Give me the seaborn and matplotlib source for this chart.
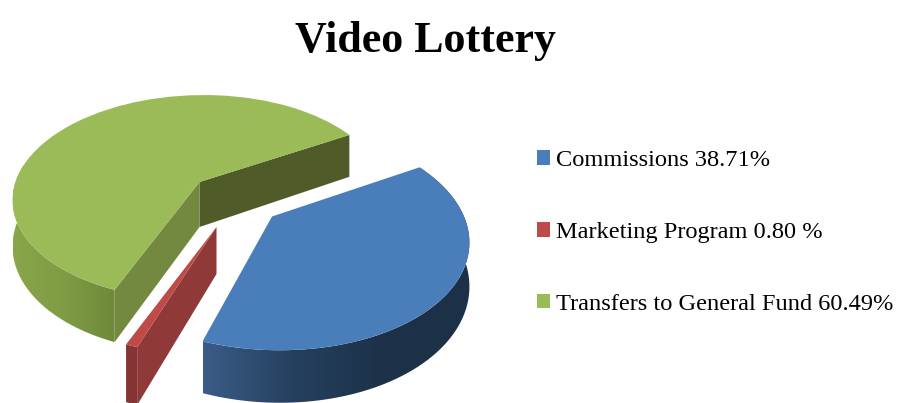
import numpy as np
import matplotlib
matplotlib.use('Agg')
import matplotlib.pyplot as plt
from matplotlib.colors import LinearSegmentedColormap
from matplotlib.patches import Polygon
from matplotlib.transforms import Transform
import seaborn as sns

title = 'Video Lottery'
categories = ['Commissions', 'Marketing Program', 'Transfers to General Fund']
shares = [38.71, 0.80, 60.49]
legend_labels = ['Commissions 38.71%', 'Marketing Program 0.80 %', 'Transfers to General Fund 60.49%']
top_colors = ['#4a7ebb', '#be4b48', '#9bbb59']


class TiltedPie(Transform):
    # unit pie -> pixel position, tilted with a little perspective
    input_dims = 2
    output_dims = 2

    def __init__(self, cx, cy, a, b, k, skew=0.0, drop=0.0):
        super().__init__()
        self.cx, self.cy, self.a, self.b = cx, cy, a, b
        self.k, self.skew, self.drop = k, skew, drop

    def transform_non_affine(self, values):
        values = np.asarray(values, dtype=float)
        u, v = values[:, 0], values[:, 1]
        w = 1 + self.k * v
        dy = self.b * v / w
        x = self.cx + self.a * u / w + self.skew * dy
        y = self.cy - dy + self.drop / w
        return np.column_stack([x, y])


def arc(wedge):
    t = np.radians(np.linspace(wedge.theta1, wedge.theta2, 120))
    return np.column_stack([np.cos(t), np.sin(t)])


def side_face(top, bottom, pts):
    return np.vstack([top.transform(pts), bottom.transform(pts)[::-1]])


sns.set_theme(style='white')
plt.rcParams['font.family'] = ['Liberation Serif', 'DejaVu Serif']

fig = plt.figure(figsize=(8.98, 4.03), dpi=100)
ax = fig.add_axes([0, 0, 1, 1])

wedges, _ = ax.pie(shares, colors=sns.color_palette(top_colors), startangle=30.4,
                   counterclock=False, radius=1, center=(0, 0),
                   wedgeprops={'linewidth': 0})
blue, red, green = wedges

top_b = TiltedPie(272, 216.5, 192, 107, 0.2, skew=-0.06)
bot_b = TiltedPie(272, 216.5, 192, 107, 0.2, skew=-0.06, drop=42)
top_r = TiltedPie(216.5, 227, 198, 103, 0.2)
bot_r = TiltedPie(216.5, 227, 198, 103, 0.2, drop=47)
top_g = TiltedPie(199.5, 182, 184, 100, 0.15, skew=0.05)
bot_g = TiltedPie(199.5, 182, 184, 100, 0.15, skew=0.05, drop=45)

origin = np.array([[0.0, 0.0]])

# green: the two cut faces, then the rim
g_arc = arc(green)
for end, col in [(g_arc[:1], '#4f5b29'), (g_arc[-1:], '#72893f')]:
    pts = np.vstack([origin, end])
    ax.add_patch(Polygon(side_face(top_g, bot_g, pts), closed=True, fc=col, ec='none', zorder=2))


def gradient_side(pts, colors, zorder):
    cmap = LinearSegmentedColormap.from_list('side', colors)
    x0, x1 = pts[:, 0].min(), pts[:, 0].max()
    y0, y1 = pts[:, 1].min(), pts[:, 1].max()
    im = ax.imshow(np.linspace(0, 1, 256).reshape(1, -1), extent=(x0, x1, y1, y0), cmap=cmap,
                   aspect='auto', interpolation='bilinear', zorder=zorder)
    im.set_clip_path(Polygon(pts, closed=True, transform=ax.transData))


gradient_side(side_face(top_g, bot_g, g_arc[g_arc[:, 1] < 0.2]), ['#8aa64a', '#7f9c44', '#6e893b'], 3)
gradient_side(side_face(top_b, bot_b, arc(blue)), ['#3b5c88', '#25405f', '#1d3249', '#1c3048'], 3)

# red: thin rim and the long cut face facing us
r_arc = arc(red)
ax.add_patch(Polygon(side_face(top_r, bot_r, r_arc), closed=True, fc='#843533', ec='none', zorder=2))
ax.add_patch(Polygon(side_face(top_r, bot_r, np.vstack([origin, r_arc[-1:]])), closed=True,
                     fc='#8f3a38', ec='none', zorder=3))

for wedge, tr in [(blue, top_b), (red, top_r), (green, top_g)]:
    wedge.set_transform(tr + ax.transData)
    wedge.set_zorder(4)

ax.set_xlim(0, 898)
ax.set_ylim(403, 0)
ax.set_aspect('auto')
ax.axis('off')

ax.text(425, 52, title, fontsize=31.7, fontweight='bold', ha='center', va='baseline', color='black')

ax.legend(wedges, legend_labels, loc='upper left', bbox_to_anchor=(537 / 898, 1 - 150 / 403),
          frameon=False, fontsize=17.6, handlelength=0.55, handleheight=0.55,
          handletextpad=0.21, labelspacing=2.08, borderpad=0, borderaxespad=0, labelcolor='black')

fig.savefig('out.png', dpi=100)
